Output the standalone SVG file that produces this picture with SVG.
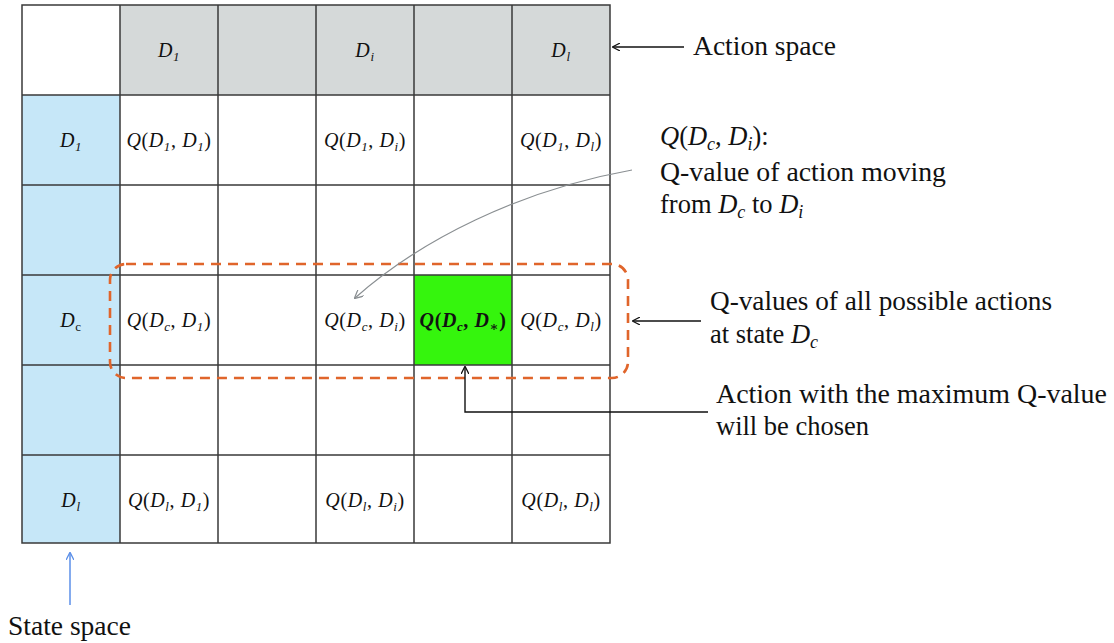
<svg xmlns="http://www.w3.org/2000/svg" width="1114" height="643" viewBox="0 0 1114 643">
  <defs>
    <style>
      .grid { stroke: #3a3a3a; stroke-width: 1.5; fill: none; }
      .m { font-family: "Liberation Serif", "DejaVu Serif", serif; font-style: italic; font-size: 20px; letter-spacing: 0.6px; fill: #111; text-anchor: middle; }
      .m .u { font-style: normal; }
      .sub { font-size: 13px; }
      .lbl { font-family: "Liberation Serif", "Times New Roman", serif; font-size: 26.5px; fill: #111; }
      .lbl .i { font-style: italic; }
      .blk { stroke: #111; stroke-width: 1.4; fill: none; }
    </style>
    <marker id="ahBlack" viewBox="0 0 10 10" refX="9" refY="5" markerWidth="8" markerHeight="8" markerUnits="userSpaceOnUse" orient="auto">
      <path d="M0,0 L10,5 L0,10" fill="none" stroke="#111" stroke-width="1.6"/>
    </marker>
    <marker id="ahGray" viewBox="0 0 10 10" refX="9" refY="5" markerWidth="9" markerHeight="9" markerUnits="userSpaceOnUse" orient="auto">
      <path d="M0,0 L10,5 L0,10" fill="none" stroke="#8a8f92" stroke-width="1.4"/>
    </marker>
    <marker id="ahBlue" viewBox="0 0 10 10" refX="9" refY="5" markerWidth="8" markerHeight="8" markerUnits="userSpaceOnUse" orient="auto">
      <path d="M0,0 L10,5 L0,10" fill="none" stroke="#5b8fe8" stroke-width="1.6"/>
    </marker>
  </defs>

  <rect width="1114" height="643" fill="#ffffff"/>

  <!-- Q-table -->
  <g id="table">
    <!-- header row: action space -->
    <rect x="120" y="5" width="490" height="90" fill="#d5d9d9"/>
    <!-- first column: state space -->
    <rect x="22" y="95" width="98" height="448" fill="#c6e7f8"/>
    <!-- best action cell -->
    <rect x="414" y="275" width="98" height="90" fill="#35f50d"/>
    <!-- grid lines -->
    <path class="grid" d="M22,5 H610 V543 H22 Z
      M120,5 V543 M218,5 V543 M316,5 V543 M414,5 V543 M512,5 V543
      M22,95 H610 M22,185 H610 M22,275 H610 M22,365 H610 M22,455 H610"/>
  </g>

  <!-- column headers -->
  <g id="actions">
    <text class="m" x="169" y="57">D<tspan class="sub" dy="4">1</tspan></text>
    <text class="m" x="365" y="57">D<tspan class="sub" dy="4">i</tspan></text>
    <text class="m" x="561" y="57">D<tspan class="sub" dy="4">l</tspan></text>
  </g>

  <!-- row headers -->
  <g id="states">
    <text class="m" x="71" y="147">D<tspan class="sub" dy="4">1</tspan></text>
    <text class="m" x="71" y="327">D<tspan class="sub u" dy="4">c</tspan></text>
    <text class="m" x="71" y="507">D<tspan class="sub" dy="4">l</tspan></text>
  </g>

  <!-- Q-values -->
  <g id="qvalues">
    <text class="m" x="169" y="147">Q<tspan class="u">(</tspan>D<tspan class="sub" dy="4">1</tspan><tspan class="u" dy="-4">, </tspan>D<tspan class="sub" dy="4">1</tspan><tspan class="u" dy="-4">)</tspan></text>
    <text class="m" x="365" y="147">Q<tspan class="u">(</tspan>D<tspan class="sub" dy="4">1</tspan><tspan class="u" dy="-4">, </tspan>D<tspan class="sub" dy="4">i</tspan><tspan class="u" dy="-4">)</tspan></text>
    <text class="m" x="561" y="147">Q<tspan class="u">(</tspan>D<tspan class="sub" dy="4">1</tspan><tspan class="u" dy="-4">, </tspan>D<tspan class="sub" dy="4">l</tspan><tspan class="u" dy="-4">)</tspan></text>

    <text class="m" x="169" y="327">Q<tspan class="u">(</tspan>D<tspan class="sub" dy="4">c</tspan><tspan class="u" dy="-4">, </tspan>D<tspan class="sub" dy="4">1</tspan><tspan class="u" dy="-4">)</tspan></text>
    <text class="m" x="365" y="327">Q<tspan class="u">(</tspan>D<tspan class="sub" dy="4">c</tspan><tspan class="u" dy="-4">, </tspan>D<tspan class="sub" dy="4">i</tspan><tspan class="u" dy="-4">)</tspan></text>
    <text class="m" x="463" y="327" font-weight="bold">Q<tspan class="u">(</tspan>D<tspan class="sub" dy="4">c</tspan><tspan class="u" dy="-4">, </tspan>D<tspan class="sub" dy="4">∗</tspan><tspan class="u" dy="-4">)</tspan></text>
    <text class="m" x="561" y="327">Q<tspan class="u">(</tspan>D<tspan class="sub" dy="4">c</tspan><tspan class="u" dy="-4">, </tspan>D<tspan class="sub" dy="4">l</tspan><tspan class="u" dy="-4">)</tspan></text>

    <text class="m" x="169" y="507">Q<tspan class="u">(</tspan>D<tspan class="sub" dy="4">l</tspan><tspan class="u" dy="-4">, </tspan>D<tspan class="sub" dy="4">1</tspan><tspan class="u" dy="-4">)</tspan></text>
    <text class="m" x="365" y="507">Q<tspan class="u">(</tspan>D<tspan class="sub" dy="4">l</tspan><tspan class="u" dy="-4">, </tspan>D<tspan class="sub" dy="4">i</tspan><tspan class="u" dy="-4">)</tspan></text>
    <text class="m" x="561" y="507">Q<tspan class="u">(</tspan>D<tspan class="sub" dy="4">l</tspan><tspan class="u" dy="-4">, </tspan>D<tspan class="sub" dy="4">l</tspan><tspan class="u" dy="-4">)</tspan></text>
  </g>

  <!-- current state row highlight -->
  <g id="current-row">
    <rect x="110" y="264" width="518" height="114" rx="16" ry="16" fill="none" stroke="#e0652b" stroke-width="2.6" stroke-dasharray="10 7"/>
  </g>

  <!-- connectors -->
  <g id="connectors">
    <path d="M632,170 C520,190 420,240 355,298" fill="none" stroke="#8a8f92" stroke-width="1.2" marker-end="url(#ahGray)"/>
    <line class="blk" x1="684" y1="47" x2="613" y2="47" marker-end="url(#ahBlack)"/>
    <line class="blk" x1="701" y1="321" x2="633" y2="321" marker-end="url(#ahBlack)"/>
    <path class="blk" d="M708,412 H465 V367" marker-end="url(#ahBlack)"/>
    <line x1="70" y1="605" x2="70" y2="553" stroke="#5b8fe8" stroke-width="1.5" marker-end="url(#ahBlue)"/>
  </g>

  <!-- annotations -->
  <g id="annotations">
    <text class="lbl" x="693" y="55" textLength="143" lengthAdjust="spacingAndGlyphs">Action space</text>
    <text class="lbl" x="660" y="145"><tspan class="i">Q</tspan>(<tspan class="i">D</tspan><tspan class="i" font-size="18" dy="5">c</tspan><tspan dy="-5">, </tspan><tspan class="i">D</tspan><tspan class="i" font-size="18" dy="5">i</tspan><tspan dy="-5">):</tspan></text>
    <text class="lbl" x="660" y="181" textLength="286" lengthAdjust="spacingAndGlyphs">Q-value of action moving</text>
    <text class="lbl" x="660" y="213">from <tspan class="i">D</tspan><tspan class="i" font-size="18" dy="5">c</tspan><tspan dy="-5"> to </tspan><tspan class="i">D</tspan><tspan class="i" font-size="18" dy="5">i</tspan></text>
    <text class="lbl" x="710" y="310" textLength="342" lengthAdjust="spacingAndGlyphs">Q-values of all possible actions</text>
    <text class="lbl" x="710" y="343">at state <tspan class="i">D</tspan><tspan class="i" font-size="18" dy="5">c</tspan></text>
    <text class="lbl" x="716" y="403" textLength="391" lengthAdjust="spacingAndGlyphs">Action with the maximum Q-value</text>
    <text class="lbl" x="716" y="435">will be chosen</text>
    <text class="lbl" x="8" y="635" textLength="123" lengthAdjust="spacingAndGlyphs">State space</text>
  </g>
</svg>
